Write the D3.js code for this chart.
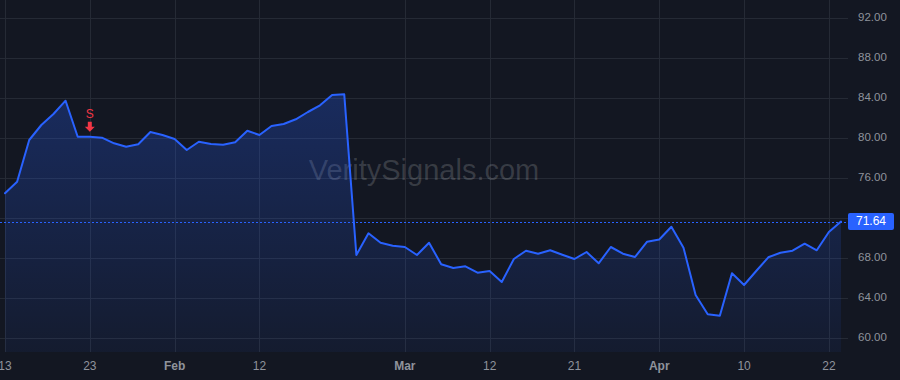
<!DOCTYPE html>
<html>
<head>
<meta charset="utf-8">
<script src="https://cdn.jsdelivr.net/npm/d3@7/dist/d3.min.js"></script>
<style>
  html, body { margin: 0; padding: 0; background: #131722; }
  svg { display: block; }
</style>
</head>
<body>
<svg id="chart" width="900" height="380"></svg>
<script>
// ---- Data ----
const dates = [
  "2025-01-13","2025-01-14","2025-01-15","2025-01-16","2025-01-17","2025-01-21","2025-01-22","2025-01-23","2025-01-24","2025-01-27","2025-01-28","2025-01-29","2025-01-30","2025-01-31",
  "2025-02-03","2025-02-04","2025-02-05","2025-02-06","2025-02-07","2025-02-10","2025-02-11","2025-02-12","2025-02-13","2025-02-14","2025-02-18","2025-02-19","2025-02-20","2025-02-21","2025-02-24","2025-02-25","2025-02-26","2025-02-27","2025-02-28",
  "2025-03-03","2025-03-04","2025-03-05","2025-03-06","2025-03-07","2025-03-10","2025-03-11","2025-03-12","2025-03-13","2025-03-14","2025-03-17","2025-03-18","2025-03-19","2025-03-20","2025-03-21","2025-03-24","2025-03-25","2025-03-26","2025-03-27","2025-03-28","2025-03-31",
  "2025-04-01","2025-04-02","2025-04-03","2025-04-04","2025-04-07","2025-04-08","2025-04-09","2025-04-10","2025-04-11","2025-04-14","2025-04-15","2025-04-16","2025-04-17","2025-04-21","2025-04-22","2025-04-23"
];
const prices = [
  74.47, 75.63, 79.80, 81.30, 82.40, 83.73, 80.13, 80.13, 80.03, 79.47, 79.13, 79.37, 80.60, 80.30,
  79.90, 78.80, 79.63, 79.40, 79.33, 79.57, 80.73, 80.30, 81.20, 81.40, 81.87, 82.60, 83.27, 84.30, 84.37, 68.30, 70.47, 69.53, 69.23,
  69.10, 68.30, 69.53, 67.37, 67.00, 67.17, 66.53, 66.70, 65.60, 67.90, 68.73, 68.43, 68.77, 68.33, 67.90, 68.60, 67.47, 69.10, 68.43, 68.10, 69.63,
  69.85, 71.13, 69.03, 64.30, 62.37, 62.23, 66.47, 65.30, 66.70, 68.07, 68.53, 68.73, 69.43, 68.77, 70.60, 71.64
];
const xTickDates  = ["2025-01-13","2025-01-23","2025-02-03","2025-02-12","2025-03-03","2025-03-12","2025-03-21","2025-04-01","2025-04-10","2025-04-22"];
const xTickLabels = ["13","23","Feb","12","Mar","12","21","Apr","10","22"];
const xTickIsMonth = [false,false,true,false,true,false,false,true,false,false];
const yTicks = [60, 64, 68, 72, 76, 80, 84, 88, 92];
const signalDates = ["2025-01-23"];
const signalLabels = ["S"];
const watermark = "VeritySignals.com";

// ---- Layout ----
const W = 900, H = 380;
const plotRight = 848, plotBottom = 352;
const svg = d3.select("#chart");
const FONT = "'Liberation Sans', Arial, sans-serif";

svg.append("rect").attr("width", W).attr("height", H).attr("fill", "#131722");

const x = d3.scalePoint().domain(dates).range([5, 841]).padding(0);
const y = d3.scaleLinear().domain([60, 92]).range([338, 18]);

// grid
const grid = svg.append("g");
grid.selectAll("line.h").data(yTicks).join("line")
  .attr("x1", 0).attr("x2", plotRight)
  .attr("y1", d => Math.round(y(d)) + 0.5).attr("y2", d => Math.round(y(d)) + 0.5)
  .attr("stroke", "#252a35").attr("stroke-width", 1);
grid.selectAll("line.v").data(xTickDates).join("line")
  .attr("x1", d => Math.round(x(d)) + 0.5).attr("x2", d => Math.round(x(d)) + 0.5)
  .attr("y1", 0).attr("y2", plotBottom)
  .attr("stroke", "#252a35").attr("stroke-width", 1);

// watermark
svg.append("text")
  .attr("x", 424).attr("y", 172)
  .attr("text-anchor", "middle").attr("dominant-baseline", "middle")
  .attr("font-family", FONT).attr("font-size", 29)
  .attr("fill", "rgba(255,255,255,0.16)")
  .text(watermark);

// area gradient
const defs = svg.append("defs");
const grad = defs.append("linearGradient").attr("id", "areaGrad")
  .attr("gradientUnits", "userSpaceOnUse")
  .attr("x1", 0).attr("x2", 0)
  .attr("y1", y(d3.max(prices))).attr("y2", plotBottom);
grad.append("stop").attr("offset", 0).attr("stop-color", "#2962ff").attr("stop-opacity", 0.27);
grad.append("stop").attr("offset", 1).attr("stop-color", "#2962ff").attr("stop-opacity", 0.06);

const pts = dates.map((d, i) => ({ d, v: prices[i] }));

svg.append("path").datum(pts)
  .attr("d", d3.area().x(p => x(p.d)).y0(plotBottom).y1(p => y(p.v)))
  .attr("fill", "url(#areaGrad)");

// last price dashed line
const last = prices[prices.length - 1];
svg.append("line")
  .attr("x1", 0).attr("x2", plotRight)
  .attr("y1", Math.round(y(last)) + 0.5).attr("y2", Math.round(y(last)) + 0.5)
  .attr("stroke", "#2962ff").attr("stroke-width", 1).attr("stroke-dasharray", "2,2");

// price line
svg.append("path").datum(pts)
  .attr("d", d3.line().x(p => x(p.d)).y(p => y(p.v)))
  .attr("fill", "none").attr("stroke", "#2962ff").attr("stroke-width", 2)
  .attr("stroke-linejoin", "round").attr("stroke-linecap", "round");

// signal markers
signalDates.forEach((sd, k) => {
  const idx = dates.indexOf(sd);
  const cx = x(sd), tip = y(prices[idx]) - 5;
  svg.append("path")
    .attr("d", `M${cx - 2},${tip - 10} L${cx + 2},${tip - 10} L${cx + 2},${tip - 5} L${cx + 5},${tip - 5} L${cx},${tip} L${cx - 5},${tip - 5} L${cx - 2},${tip - 5} Z`)
    .attr("fill", "#f23645");
  svg.append("text")
    .attr("x", cx).attr("y", tip - 17)
    .attr("text-anchor", "middle").attr("dominant-baseline", "middle")
    .attr("font-family", FONT).attr("font-size", 12)
    .attr("fill", "#f23645")
    .text(signalLabels[k]);
});

// y-axis labels
const yLast = y(last);
svg.append("g").selectAll("text").data(yTicks.filter(t => Math.abs(y(t) - yLast) > 12)).join("text")
  .attr("x", 858).attr("y", d => y(d))
  .attr("dominant-baseline", "middle")
  .attr("font-family", FONT).attr("font-size", 11.5)
  .attr("fill", "#8f939c")
  .text(d => d.toFixed(2));

// last price label
svg.append("rect")
  .attr("x", 848).attr("y", yLast - 8.5).attr("width", 46).attr("height", 17).attr("rx", 2)
  .attr("fill", "#2962ff");
svg.append("text")
  .attr("x", 871).attr("y", yLast)
  .attr("text-anchor", "middle").attr("dominant-baseline", "middle")
  .attr("font-family", FONT).attr("font-size", 12)
  .attr("fill", "#ffffff")
  .text(last.toFixed(2));

// x-axis labels
svg.append("g").selectAll("text").data(xTickDates).join("text")
  .attr("x", d => x(d)).attr("y", 367)
  .attr("text-anchor", "middle").attr("dominant-baseline", "middle")
  .attr("font-family", FONT).attr("font-size", 12)
  .attr("font-weight", (d, i) => xTickIsMonth[i] ? "bold" : "normal")
  .attr("fill", "#8f939c")
  .text((d, i) => xTickLabels[i]);
</script>
</body>
</html>
